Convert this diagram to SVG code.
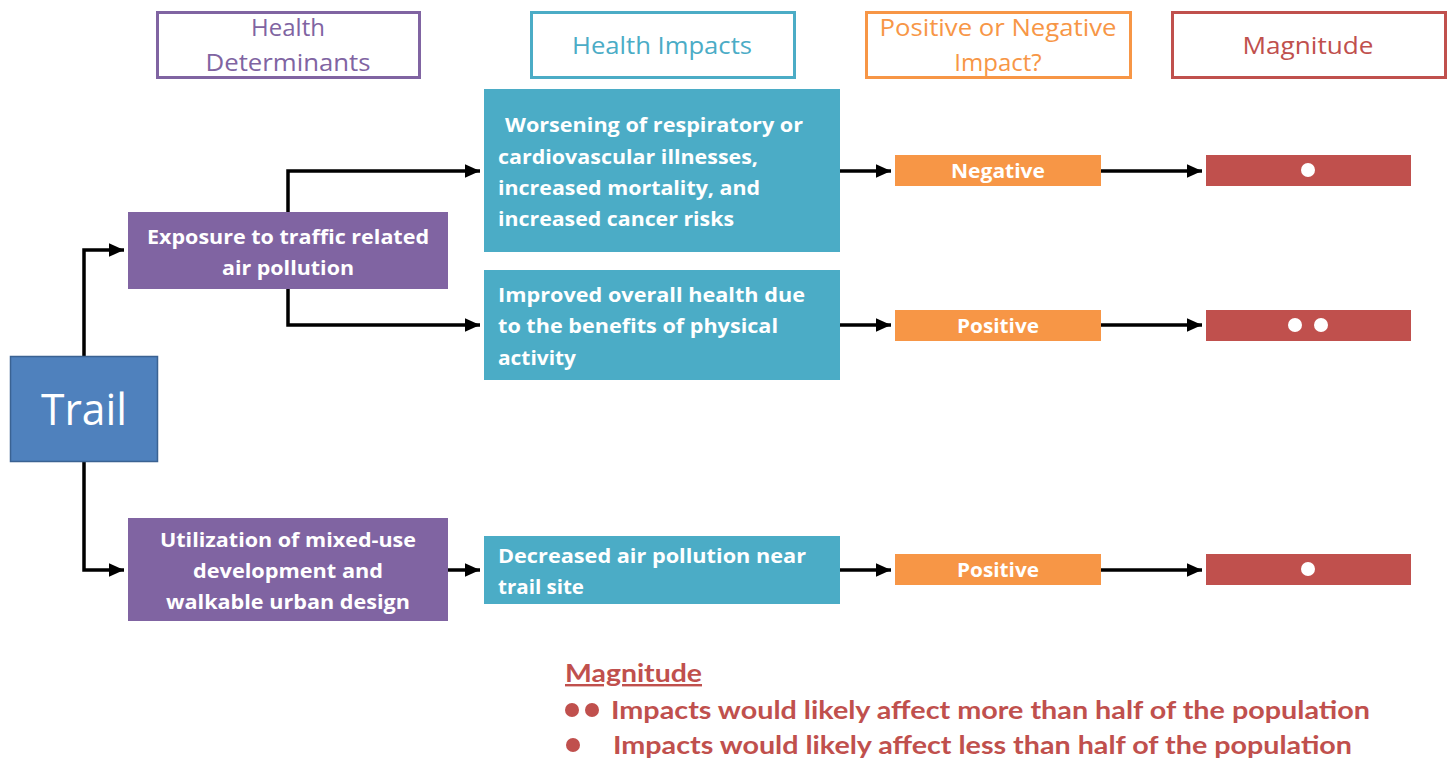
<svg xmlns="http://www.w3.org/2000/svg" width="1452" height="759" viewBox="0 0 1452 759">
<style>
.hdr{fill:#fff;stroke-width:3}
.ht{font-family:"Open Sans",Lato,sans-serif;font-size:24px;text-anchor:middle}
.bt{font-family:"Open Sans",Lato,sans-serif;font-size:20px;font-weight:bold;fill:#fff}
.c{text-anchor:middle}
.con{fill:none;stroke:#000;stroke-width:3.5}
.leg{font-family:Lato,"Liberation Sans",sans-serif;font-size:24px;font-weight:bold;fill:#C0504D}
</style>
<defs>
<marker id="ah" markerWidth="4.4" markerHeight="4" refX="4.4" refY="2" orient="auto" markerUnits="strokeWidth">
<path d="M0,0 L4.4,2 L0,4 z" fill="#000"/>
</marker>
</defs>
<rect width="1452" height="759" fill="#fff"/>

<g id="hdr-determinants">
<rect class="hdr" x="157.5" y="12.5" width="262" height="65" stroke="#8064A2"/>
<text class="ht" x="288" y="36" fill="#8064A2">Health</text>
<text class="ht" x="288" y="71" fill="#8064A2" textLength="165" lengthAdjust="spacingAndGlyphs">Determinants</text>
</g>
<g id="hdr-impacts">
<rect class="hdr" x="531.5" y="12.5" width="263" height="65" stroke="#4BACC6"/>
<text class="ht" x="662" y="54" fill="#4BACC6" textLength="180" lengthAdjust="spacingAndGlyphs">Health Impacts</text>
</g>
<g id="hdr-posneg">
<rect class="hdr" x="866.5" y="12.5" width="264" height="65" stroke="#F79646"/>
<text class="ht" x="998" y="36" fill="#F79646" textLength="237" lengthAdjust="spacingAndGlyphs">Positive or Negative</text>
<text class="ht" x="998" y="71" fill="#F79646">Impact?</text>
</g>
<g id="hdr-magnitude">
<rect class="hdr" x="1172.5" y="12.5" width="273" height="65" stroke="#C0504D"/>
<text class="ht" x="1308" y="54" fill="#C0504D" textLength="131" lengthAdjust="spacingAndGlyphs">Magnitude</text>
</g>

<g id="connectors">
<path class="con" d="M84,356 V250 H124" marker-end="url(#ah)"/>
<path class="con" d="M84,462 V570 H124" marker-end="url(#ah)"/>
<path class="con" d="M288,212 V171 H480" marker-end="url(#ah)"/>
<path class="con" d="M288,289 V325 H480" marker-end="url(#ah)"/>
<path class="con" d="M448,570 H480" marker-end="url(#ah)"/>
<path class="con" d="M840,171 H891" marker-end="url(#ah)"/>
<path class="con" d="M1101,171 H1202" marker-end="url(#ah)"/>
<path class="con" d="M840,325 H891" marker-end="url(#ah)"/>
<path class="con" d="M1101,325 H1202" marker-end="url(#ah)"/>
<path class="con" d="M840,570 H891" marker-end="url(#ah)"/>
<path class="con" d="M1101,570 H1202" marker-end="url(#ah)"/>
</g>

<g id="trail">
<rect x="10.5" y="356.5" width="147" height="105" fill="#4F81BD" stroke="#3A6292" stroke-width="1.5"/>
<text x="84" y="425" font-family="'Open Sans',Lato,sans-serif" font-size="44" fill="#fff" text-anchor="middle" textLength="86" lengthAdjust="spacingAndGlyphs">Trail</text>
</g>

<g id="exposure">
<rect x="128" y="212" width="320" height="77" fill="#8064A2"/>
<text class="bt c" x="288" y="244" textLength="282" lengthAdjust="spacingAndGlyphs">Exposure to traffic related</text>
<text class="bt c" x="288" y="275" textLength="132" lengthAdjust="spacingAndGlyphs">air pollution</text>
</g>
<g id="utilization">
<rect x="128" y="518" width="320" height="103" fill="#8064A2"/>
<text class="bt c" x="288" y="547" textLength="256" lengthAdjust="spacingAndGlyphs">Utilization of mixed-use</text>
<text class="bt c" x="288" y="578" textLength="190" lengthAdjust="spacingAndGlyphs">development and</text>
<text class="bt c" x="288" y="609" textLength="244" lengthAdjust="spacingAndGlyphs">walkable urban design</text>
</g>

<g id="worsening">
<rect x="484" y="89" width="356" height="163" fill="#4BACC6"/>
<text class="bt" x="505" y="132" textLength="298" lengthAdjust="spacingAndGlyphs">Worsening of respiratory or</text>
<text class="bt" x="498" y="164" textLength="260" lengthAdjust="spacingAndGlyphs">cardiovascular illnesses,</text>
<text class="bt" x="498" y="195" textLength="262" lengthAdjust="spacingAndGlyphs">increased mortality, and</text>
<text class="bt" x="498" y="226" textLength="236" lengthAdjust="spacingAndGlyphs">increased cancer risks</text>
</g>
<g id="improved">
<rect x="484" y="270" width="356" height="110" fill="#4BACC6"/>
<text class="bt" x="498" y="302" textLength="307" lengthAdjust="spacingAndGlyphs">Improved overall health due</text>
<text class="bt" x="498" y="333" textLength="280" lengthAdjust="spacingAndGlyphs">to the benefits of physical</text>
<text class="bt" x="498" y="365" textLength="78" lengthAdjust="spacingAndGlyphs">activity</text>
</g>
<g id="decreased">
<rect x="484" y="536" width="356" height="68" fill="#4BACC6"/>
<text class="bt" x="498" y="563" textLength="308" lengthAdjust="spacingAndGlyphs">Decreased air pollution near</text>
<text class="bt" x="498" y="594" textLength="86" lengthAdjust="spacingAndGlyphs">trail site</text>
</g>

<g id="negative">
<rect x="895" y="155" width="206" height="31" fill="#F79646"/>
<text class="bt c" x="998" y="178" textLength="94" lengthAdjust="spacingAndGlyphs">Negative</text>
</g>
<g id="positive1">
<rect x="895" y="310" width="206" height="31" fill="#F79646"/>
<text class="bt c" x="998" y="333" textLength="82" lengthAdjust="spacingAndGlyphs">Positive</text>
</g>
<g id="positive2">
<rect x="895" y="554" width="206" height="31" fill="#F79646"/>
<text class="bt c" x="998" y="577" textLength="82" lengthAdjust="spacingAndGlyphs">Positive</text>
</g>

<g id="mag1">
<rect x="1206" y="155" width="205" height="31" fill="#C0504D"/>
<circle cx="1308" cy="170" r="7" fill="#fff"/>
</g>
<g id="mag2">
<rect x="1206" y="310" width="205" height="31" fill="#C0504D"/>
<circle cx="1295" cy="325" r="7" fill="#fff"/>
<circle cx="1321" cy="325" r="7" fill="#fff"/>
</g>
<g id="mag3">
<rect x="1206" y="554" width="205" height="31" fill="#C0504D"/>
<circle cx="1308" cy="569" r="7" fill="#fff"/>
</g>

<g id="legend">
<text class="leg" x="565" y="682" text-decoration="underline" textLength="137" lengthAdjust="spacingAndGlyphs">Magnitude</text>
<circle cx="572" cy="710" r="7" fill="#C0504D"/>
<circle cx="592" cy="710" r="7" fill="#C0504D"/>
<text class="leg" x="611" y="719" textLength="759" lengthAdjust="spacingAndGlyphs">Impacts would likely affect more than half of the population</text>
<circle cx="573" cy="745" r="7" fill="#C0504D"/>
<text class="leg" x="613" y="754" textLength="739" lengthAdjust="spacingAndGlyphs">Impacts would likely affect less than half of the population</text>
</g>
</svg>
